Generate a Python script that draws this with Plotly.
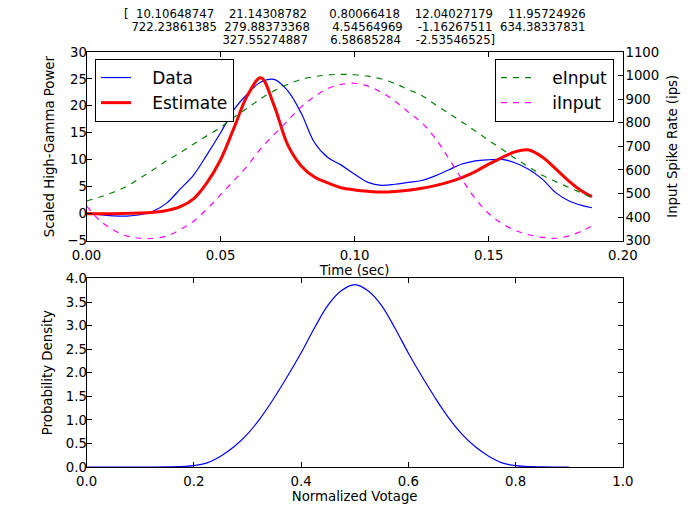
import plotly.graph_objects as go

# time axis shared by the four traces of the top panel (sec)
t = [0.0, 0.005, 0.01, 0.015, 0.02, 0.025, 0.03, 0.035, 0.04, 0.045,
     0.05, 0.055, 0.06, 0.065, 0.07, 0.075, 0.08, 0.085, 0.09, 0.095,
     0.10, 0.105, 0.11, 0.115, 0.12, 0.125, 0.13, 0.135, 0.14, 0.145,
     0.15, 0.155, 0.16, 0.165, 0.17, 0.175, 0.18, 0.185, 0.1885]

data_hg = [0.0, -0.2, -0.4, -0.45, -0.2, 0.5, 2.0, 4.6, 7.2, 11.0,
           15.0, 19.3, 22.2, 24.4, 24.9, 22.8, 18.7, 13.2, 10.4, 9.0,
           7.3, 5.8, 5.25, 5.45, 5.8, 6.15, 7.0, 8.1, 9.2, 9.8,
           10.0, 10.05, 9.4, 8.2, 6.4, 3.9, 2.35, 1.5, 1.1]

estimate = [0.0, 0.0, 0.0, 0.05, 0.1, 0.25, 0.6, 1.3, 2.8, 5.8,
            10.0, 15.9, 21.9, 25.2, 20.0, 12.8, 8.9, 6.8, 5.7, 4.8,
            4.4, 4.15, 4.0, 4.1, 4.35, 4.7, 5.2, 5.85, 6.7, 7.8,
            9.2, 10.4, 11.5, 11.8, 10.5, 8.3, 6.0, 4.1, 3.15]

e_input = [468, 485, 505, 530, 565, 601, 640, 673, 710, 745,
           780, 823, 862, 902, 935, 962, 983, 995, 1002, 1005,
           1003, 997, 985, 966, 940, 915, 877, 840, 803, 765,
           725, 687, 648, 612, 577, 550, 525, 500, 482]

i_input = [447, 385, 345, 320, 310, 310, 320, 347, 383, 435,
           495, 555, 617, 690, 750, 808, 866, 910, 945, 962,
           967, 955, 928, 892, 845, 800, 735, 650, 560, 478,
           415, 372, 343, 325, 314, 310, 320, 342, 362]

# bottom panel
volt = [0.0, 0.05, 0.10, 0.15, 0.20, 0.225, 0.25, 0.275, 0.30, 0.325,
        0.35, 0.375, 0.40, 0.425, 0.45, 0.475, 0.50, 0.525, 0.55, 0.575,
        0.60, 0.625, 0.65, 0.675, 0.70, 0.725, 0.75, 0.775, 0.80, 0.85, 0.90]
density = [0.0, 0.0, 0.0, 0.003, 0.03, 0.09, 0.23, 0.43, 0.70, 1.05,
           1.47, 1.93, 2.42, 2.95, 3.43, 3.74, 3.87, 3.74, 3.43, 2.95,
           2.42, 1.93, 1.47, 1.05, 0.70, 0.43, 0.23, 0.09, 0.03, 0.003, 0.0]

# printed parameter array used as the title (numpy style layout)
title_lines = [
    "[ 10.10648747  21.14308782   0.80066418  12.04027179  11.95724926",
    " 722.23861385 279.88373368   4.54564969  -1.16267511 634.38337831",
    " 327.55274887   6.58685284  -2.53546525]",
]
title_y = [0.9892, 0.9634, 0.9364]

FONT = "DejaVu Sans"
W, H = 684, 511  # page body keeps an 8px margin
X_DOM = [0.1148, 0.8988]
TOP_DOM = [0.5448, 0.9141]
BOT_DOM = [0.1016, 0.4708]
fig = go.Figure()

pad = "\u00a0\u00a0\u00a0"
fig.add_trace(go.Scatter(x=t, y=data_hg, name=pad + "Data", mode="lines", line_shape="spline",
                         line=dict(color="#0000ff", width=1.2), xaxis="x", yaxis="y"))
fig.add_trace(go.Scatter(x=t, y=estimate, name=pad + "Estimate", mode="lines", line_shape="spline",
                         line=dict(color="#ff0000", width=3), xaxis="x", yaxis="y"))
fig.add_trace(go.Scatter(x=t, y=e_input, name=pad + "eInput", mode="lines", line_shape="spline",
                         line=dict(color="#008000", width=1.2, dash="6px,6px"),
                         xaxis="x", yaxis="y2", legend="legend2"))
fig.add_trace(go.Scatter(x=t, y=i_input, name=pad + "iInput", mode="lines", line_shape="spline",
                         line=dict(color="#ff00ff", width=1.2, dash="6px,6px"),
                         xaxis="x", yaxis="y2", legend="legend2"))
fig.add_trace(go.Scatter(x=volt, y=density, mode="lines", line_shape="spline", showlegend=False,
                         line=dict(color="#0000ff", width=1.2), xaxis="x2", yaxis="y3"))

ax = dict(showline=True, linecolor="black", linewidth=1, ticks="inside", ticklen=5,
          tickcolor="black", showgrid=False, zeroline=False, automargin=False,
          tickfont=dict(family=FONT, size=13.3, color="black"))
tf = dict(family=FONT, size=13.3, color="black")
lg = dict(yanchor="top", bordercolor="black", borderwidth=1, bgcolor="white",
          font=dict(family=FONT, size=17, color="black"))
fig.update_layout(
    width=W, height=H, margin=dict(l=0, r=0, t=0, b=0),
    paper_bgcolor="white", plot_bgcolor="white",
    font=dict(family=FONT, color="black"),
    xaxis=dict(ax, domain=X_DOM, anchor="y", range=[0, 0.2], dtick=0.05,
               tickformat=".2f", mirror="ticks", ticklabelstandoff=2,
               title=dict(text="Time (sec)", standoff=1, font=tf)),
    yaxis=dict(ax, domain=TOP_DOM, anchor="x", range=[-5, 30], dtick=5,
               ticklabelstandoff=-4),
    yaxis2=dict(ax, overlaying="y", side="right", anchor="x", range=[300, 1100], dtick=100,
                ticklabelstandoff=-1,
                title=dict(text="Input Spike Rate (ips)", standoff=9, font=tf)),
    xaxis2=dict(ax, domain=X_DOM, anchor="y3", range=[0, 1], dtick=0.2,
                tickformat=".1f", mirror="ticks", ticklabelstandoff=2,
                title=dict(text="Normalized Votage", standoff=2, font=tf)),
    yaxis3=dict(ax, domain=BOT_DOM, anchor="x2", range=[0, 4], dtick=0.5,
                tickformat=".1f", mirror="ticks", ticklabelstandoff=-4),
    legend=dict(lg, x=0.1272, y=0.9002, xanchor="left"),
    legend2=dict(lg, x=0.886, y=0.9002, xanchor="right"),
)

# left y axis titles placed by hand
fig.add_annotation(text="Scaled High-Gamma Power", textangle=-90, x=0.0599, y=sum(TOP_DOM) / 2,
                   xref="paper", yref="paper", xanchor="center", yanchor="middle",
                   showarrow=False, font=tf)
fig.add_annotation(text="Probability Density", textangle=-90, x=0.0577, y=sum(BOT_DOM) / 2,
                   xref="paper", yref="paper", xanchor="center", yanchor="middle",
                   showarrow=False, font=tf)

for line, yy in zip(title_lines, title_y):
    fig.add_annotation(text=line.replace(" ", "\u00a0\u00a0"), x=sum(X_DOM) / 2, y=yy,
                       xref="paper", yref="paper", xanchor="center", yanchor="middle",
                       showarrow=False, font=dict(family=FONT, size=11.7, color="black"))

fig.write_html("out.html")
